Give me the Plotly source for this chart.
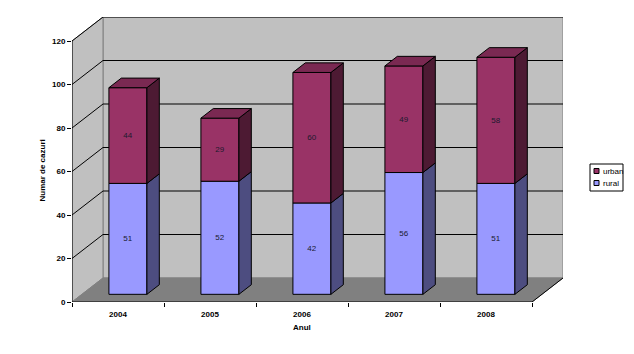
import plotly.graph_objects as go

# ---- data ----
years = ['2004', '2005', '2006', '2007', '2008']
rural = [51, 52, 42, 56, 51]
urban = [44, 29, 60, 49, 58]
y_ticks = [0, 20, 40, 60, 80, 100, 120]
y_max = 120

# ---- geometry (3D look) ----
W, H = 634, 354
ML, MR, MT, MB = 72, 71, 17, 52
n = len(years)
PX_X = 92.0            # pixels per category
PX_Y = 261.0 / y_max   # pixels per value unit
DX = 31 / PX_X         # depth offset in x data units
DY = 24 / PX_Y         # depth offset in y data units
F0, F1 = 0.32, 0.72    # bar front/back depth fractions
BW = 0.413             # bar width in category units

plot_w = W - ML - MR
plot_h = H - MT - MB
x_range = [0, plot_w / PX_X]
y_range = [0, plot_h / PX_Y]

def px2paper(px, py):
    return (px - ML) / plot_w, (H - MB - py) / plot_h

RURAL_F, RURAL_S = '#9999FF', '#4D4D80'
URBAN_F, URBAN_S, URBAN_T = '#993366', '#4D1A33', '#7A2952'
WALL, FLOOR, EDGE = '#C0C0C0', '#808080', '#808080'

shapes = []
def poly(pts, fill, line_color, lw=1):
    d = 'M ' + ' L '.join(f'{x},{y}' for x, y in pts) + ' Z'
    shapes.append(dict(type='path', path=d, xref='x', yref='y', fillcolor=fill,
                       line=dict(color=line_color, width=lw), layer='below'))

def seg(x0, y0, x1, y1, color='black', lw=1):
    shapes.append(dict(type='line', x0=x0, y0=y0, x1=x1, y1=y1, xref='x', yref='y',
                       line=dict(color=color, width=lw), layer='below'))

# back wall, left wall, floor
poly([(DX, DY), (n + DX, DY), (n + DX, y_max + DY), (DX, y_max + DY)], WALL, EDGE)
poly([(0, 0), (DX, DY), (DX, y_max + DY), (0, y_max)], WALL, EDGE)
poly([(0, 0), (n, 0), (n + DX, DY), (DX, DY)], FLOOR, FLOOR)
# gridlines
for v in y_ticks[1:]:
    seg(DX, v + DY, n + DX, v + DY)
    seg(0, v, DX, v + DY)
seg(n, 0, n + DX, DY, 'black')
# axes lines
seg(0, 0, n, 0)
seg(0, 0, 0, y_max)

fig = go.Figure()

centers = [i + 0.5 for i in range(n)]
bx = [c + F0 * DX for c in centers]
bdx = (F1 - F0) * DX
bdy = (F1 - F0) * DY

def faces(bases, vals, side_color, top_color=None):
    sx, sy, tx, ty = [], [], [], []
    for c, b, v in zip(bx, bases, vals):
        xr = c + BW / 2
        xl = c - BW / 2
        y0 = F0 * DY + b
        y1 = y0 + v
        sx += [xr, xr + bdx, xr + bdx, xr, xr, None]
        sy += [y0, y0 + bdy, y1 + bdy, y1, y0, None]
        tx += [xl, xr, xr + bdx, xl + bdx, xl, None]
        ty += [y1, y1, y1 + bdy, y1 + bdy, y1, None]
    fig.add_trace(go.Scatter(x=sx, y=sy, mode='lines', fill='toself', fillcolor=side_color,
                             line=dict(color='black', width=1), hoverinfo='skip', showlegend=False))
    if top_color:
        fig.add_trace(go.Scatter(x=tx, y=ty, mode='lines', fill='toself', fillcolor=top_color,
                                 line=dict(color='black', width=1), hoverinfo='skip', showlegend=False))

rural_base = [0] * n
urban_base = rural[:]
for name, vals, base, col in [('rural', rural, rural_base, RURAL_F), ('urban', urban, urban_base, URBAN_F)]:
    fig.add_trace(go.Bar(x=bx, y=vals, base=[F0 * DY + b for b in base], width=BW, name=name,
                         marker=dict(color=col, line=dict(color='black', width=1)),
                         text=[str(v) for v in vals], textposition='inside',
                         insidetextanchor='middle', textangle=0, constraintext='none',
                         textfont=dict(family='Arial, Liberation Sans', size=8, color='#1a1a2e'),
                         hoverinfo='skip', showlegend=False))
faces(rural_base, rural, RURAL_S)
faces(urban_base, urban, URBAN_S, URBAN_T)

fig.update_layout(
    width=W, height=H, margin=dict(l=ML, r=MR, t=MT, b=MB),
    paper_bgcolor='white', plot_bgcolor='rgba(0,0,0,0)', barmode='overlay',
    showlegend=False, shapes=shapes,
    font=dict(family='Arial, Liberation Sans', size=8, color='black'),
    xaxis=dict(range=x_range, tickvals=centers, ticktext=years, ticks='outside', ticklen=4,
               tickcolor='rgba(0,0,0,0)', showgrid=False, zeroline=False, showline=False,
               tickfont=dict(size=8, weight='bold'),
               minor=dict(ticks='outside', ticklen=4, tickcolor='black', tick0=0, dtick=1, showgrid=False)),
    yaxis=dict(range=y_range, tickvals=y_ticks, ticks='outside', ticklen=4, tickcolor='black',
               showgrid=False, zeroline=False, showline=False, tickfont=dict(size=8, weight='bold')),
)

ann = []
ax, ay = px2paper(302, 327)
ann.append(dict(x=ax, y=ay, xref='paper', yref='paper', text='Anul', showarrow=False,
                xanchor='center', yanchor='middle', font=dict(size=8, weight='bold')))
ax, ay = px2paper(41.5, 171)
ann.append(dict(x=ax, y=ay, xref='paper', yref='paper', text='Numar de cazuri', showarrow=False,
                xanchor='center', yanchor='middle', textangle=-90, font=dict(size=8, weight='bold')))

# legend (manual)
bx0, by0 = px2paper(590, 164)
bx1, by1 = px2paper(623, 191)
fig.add_shape(type='rect', xref='paper', yref='paper', x0=bx0, y0=by1, x1=bx1, y1=by0,
              line=dict(color='black', width=1), fillcolor='white')
for name, col, py in [('urban', URBAN_F, 171), ('rural', RURAL_F, 183)]:
    sx0, sy0 = px2paper(594, py - 2.5)
    sx1, sy1 = px2paper(599, py + 2.5)
    fig.add_shape(type='rect', xref='paper', yref='paper', x0=sx0, y0=sy1, x1=sx1, y1=sy0,
                  line=dict(color='black', width=1), fillcolor=col)
    tx, ty = px2paper(601, py)
    ann.append(dict(x=tx, y=ty, xref='paper', yref='paper', text=name, showarrow=False,
                    xanchor='left', yanchor='middle', font=dict(size=8)))
fig.update_layout(annotations=ann)

fig.write_html('out.html')
